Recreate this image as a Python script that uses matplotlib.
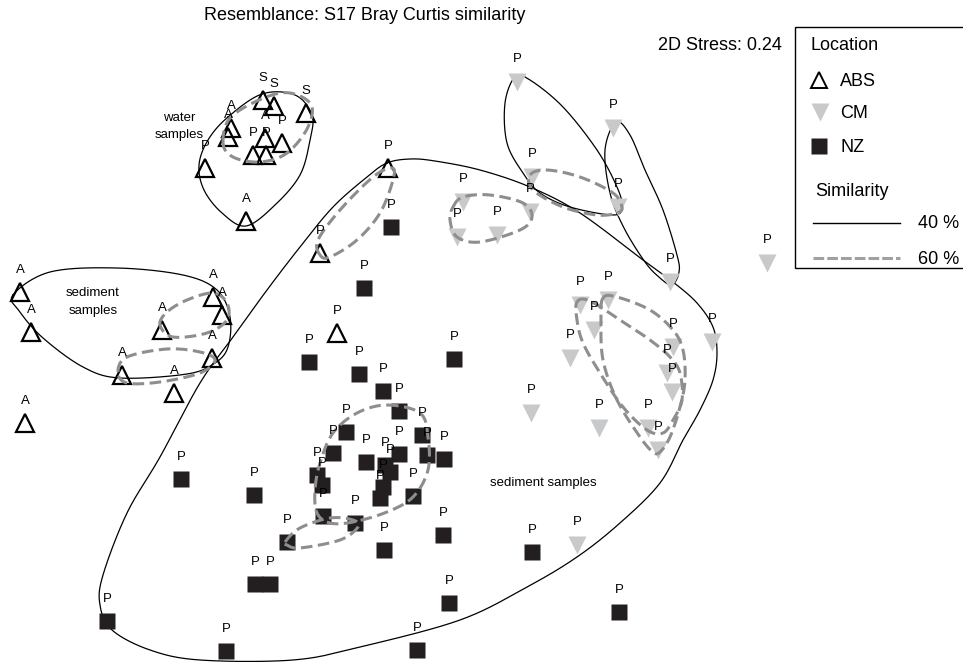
import numpy as np
import matplotlib
matplotlib.use("Agg")
import matplotlib.pyplot as plt
from matplotlib.patches import Rectangle

plt.rcParams['font.family'] = ['Liberation Sans', 'DejaVu Sans']

# nMDS ordination, coordinates (screen units, y downwards)
abs_lab = ['S', 'S', 'S', 'A', 'A', 'A', 'P', 'P', 'P', 'P', 'A',
           'A', 'A', 'A', 'A', 'A', 'A', 'A', 'A', 'A',
           'P', 'P', 'P']
abs_x = [263, 274, 306, 231, 228, 265, 282, 253, 266, 205, 246,
         20, 31, 162, 213, 222, 212, 122, 174, 25,
         320, 388, 337]
abs_y = [100, 106, 113, 128, 137, 138, 143, 155, 155, 168, 221,
         292, 332, 330, 297, 315, 358, 375, 393, 423,
         253, 168, 333]

cm_x = [517, 613, 532, 618, 463, 457, 497, 530, 670, 712, 580, 608, 594, 570,
        673, 667, 672, 599, 648, 658, 531, 577, 767]
cm_y = [82, 128, 177, 207, 202, 237, 235, 212, 282, 342, 305, 300, 330, 358,
        347, 373, 392, 428, 428, 450, 413, 545, 263]

nz_x = [391, 364, 309, 359, 383, 399, 454, 422, 346, 444, 333, 317, 322, 366,
        385, 390, 399, 427, 413, 383, 380, 355, 323, 287, 384, 443, 181, 254,
        255, 270, 107, 226, 417, 449, 532, 619]
nz_y = [227, 288, 362, 374, 391, 411, 359, 435, 432, 459, 453, 475, 485, 462,
        465, 472, 454, 455, 496, 487, 498, 523, 516, 542, 550, 535, 479, 495,
        584, 584, 621, 651, 650, 603, 552, 612]

# similarity contours (control points of the closed curves)
sim40 = [
    [(228, 117), (262, 94), (295, 95), (312, 115), (310, 140), (300, 175),
     (275, 205), (246, 226), (222, 213), (204, 190), (199, 165), (208, 140)],
    [(13, 295), (50, 272), (117, 268), (183, 275), (217, 290), (230, 317),
     (228, 347), (215, 363), (187, 374), (120, 378), (83, 367), (43, 338),
     (20, 312)],
    [(387, 163), (410, 159), (435, 161), (480, 170), (530, 187), (580, 213),
     (643, 260), (673, 282), (697, 303), (713, 327), (717, 353), (713, 380),
     (700, 410), (683, 440), (660, 483), (620, 523), (577, 557), (527, 587),
     (460, 620), (360, 647), (293, 660), (200, 660), (150, 650), (112, 630),
     (100, 605), (103, 575), (127, 513), (160, 457), (200, 383), (233, 337),
     (267, 290), (300, 247), (333, 207), (367, 177)],
    [(515, 77), (505, 103), (507, 143), (523, 173), (540, 193), (570, 207),
     (613, 215), (622, 207), (617, 187), (597, 150), (563, 107), (530, 80)],
    [(616, 122), (630, 135), (645, 170), (663, 210), (677, 255), (679, 272),
     (672, 285), (660, 278), (645, 262), (624, 228), (610, 193), (605, 150)],
]
sim60 = [
    [(223, 142), (233, 115), (280, 93), (310, 103), (308, 127), (287, 153),
     (260, 162), (233, 157)],
    [(160, 325), (167, 312), (187, 300), (213, 293), (227, 303), (227, 320),
     (207, 333), (173, 337)],
    [(118, 372), (127, 357), (167, 349), (200, 352), (215, 360), (200, 373),
     (160, 382), (127, 383)],
    [(320, 255), (318, 240), (340, 210), (373, 177), (392, 168), (393, 180),
     (380, 213), (357, 240), (330, 257)],
    [(453, 207), (463, 197), (490, 195), (523, 203), (532, 217), (520, 230),
     (480, 242), (457, 237), (450, 220)],
    [(530, 175), (547, 170), (580, 177), (613, 193), (622, 207), (617, 213),
     (597, 215), (563, 207), (533, 190)],
    [(577, 302), (590, 301), (623, 322), (650, 340), (670, 357), (680, 373),
     (682, 400), (673, 420), (663, 433), (647, 430), (623, 407), (600, 373),
     (583, 343), (577, 320)],
    [(603, 298), (617, 297), (650, 310), (673, 330), (683, 350), (685, 380),
     (680, 407), (670, 437), (660, 452), (653, 452), (640, 437), (617, 400),
     (603, 360), (601, 320)],
    [(387, 405), (420, 413), (428, 437), (428, 470), (413, 497), (387, 512),
     (353, 522), (330, 523), (317, 513), (315, 490), (320, 463), (333, 433),
     (357, 413)],
    [(285, 542), (300, 528), (330, 518), (353, 520), (358, 527), (340, 540),
     (300, 548), (287, 545)],
]


def closed_curve(pts, m=30):
    """periodic Catmull-Rom through the control points"""
    p = np.array(pts, dtype=float)
    n = len(p)
    t = np.linspace(0, 1, m, endpoint=False)[:, None]
    out = []
    for i in range(n):
        p0, p1, p2, p3 = p[i - 1], p[i], p[(i + 1) % n], p[(i + 2) % n]
        out.append(0.5 * ((2 * p1) + (-p0 + p2) * t
                          + (2 * p0 - 5 * p1 + 4 * p2 - p3) * t ** 2
                          + (-p0 + 3 * p1 - 3 * p2 + p3) * t ** 3))
    out = np.vstack(out)
    return np.vstack([out, out[:1]])


BLACK = '#231f20'
CMGREY = '#c8c9cb'
DASHGREY = '#8e8e8e'

fig = plt.figure(figsize=(9.63, 6.62), dpi=100, facecolor='w')
ax = fig.add_axes([0, 0, 1, 1])
ax.set_xlim(0, 963)
ax.set_ylim(662, 0)
ax.axis('off')

for c in sim40:
    xy = closed_curve(c)
    ax.plot(xy[:, 0], xy[:, 1], color='black', lw=0.9, zorder=2)
for c in sim60:
    xy = closed_curve(c)
    ax.plot(xy[:, 0], xy[:, 1], color=DASHGREY, lw=2.2, dashes=(3.8, 1.8),
            zorder=4)

ax.plot(cm_x, cm_y, 'v', ms=13, color=CMGREY, mec='none', zorder=3)
ax.plot(nz_x, nz_y, 's', ms=12, color=BLACK, mec='none', zorder=3)
ax.plot(abs_x, abs_y, '^', ms=12.5, mfc='none', mec='black', mew=1.6,
        zorder=3)

# sample labels
for lab, x, y in zip(abs_lab, abs_x, abs_y):
    ax.text(x, y - 22, lab, ha='center', va='center', fontsize=9.5, zorder=5)
for x, y in zip(cm_x, cm_y):
    ax.text(x, y - 23, 'P', ha='center', va='center', fontsize=9.5, zorder=5)
for x, y in zip(nz_x, nz_y):
    ax.text(x, y - 22, 'P', ha='center', va='center', fontsize=9.5, zorder=5)

ax.text(179, 118, 'water', ha='center', va='center', fontsize=9.5)
ax.text(179, 135, 'samples', ha='center', va='center', fontsize=9.5)
ax.text(93, 293, 'sediment', ha='center', va='center', fontsize=9.5)
ax.text(93, 311, 'samples', ha='center', va='center', fontsize=9.5)
ax.text(543, 483, 'sediment samples', ha='center', va='center', fontsize=9.5)

ax.text(365, 16, 'Resemblance: S17 Bray Curtis similarity', ha='center',
        va='center', fontsize=13)
ax.text(782, 46, '2D Stress: 0.24', ha='right', va='center', fontsize=13)

# legend
ax.add_patch(Rectangle((795, 27), 170, 241, fill=False, ec='black', lw=1.0,
                       zorder=6))
ax.text(810, 46, 'Location', va='center', fontsize=13)
ax.plot([819], [80], '^', ms=12, mfc='none', mec='black', mew=1.4)
ax.text(840, 81, 'ABS', va='center', fontsize=13)
ax.plot([820], [112], 'v', ms=13, color=CMGREY, mec='none')
ax.text(840, 114, 'CM', va='center', fontsize=13)
ax.plot([819], [146], 's', ms=12, color=BLACK, mec='none')
ax.text(840, 147, 'NZ', va='center', fontsize=13)
ax.text(815, 192, 'Similarity', va='center', fontsize=13)
ax.plot([813, 900], [223, 223], color='black', lw=1.0)
ax.text(918, 224, '40 %', va='center', fontsize=13)
ax.plot([813, 900], [258, 258], color='#a0a0a0', lw=2.2, dashes=(3.5, 1.0))
ax.text(918, 259, '60 %', va='center', fontsize=13)

fig.savefig('out.png', dpi=100, facecolor='w')
